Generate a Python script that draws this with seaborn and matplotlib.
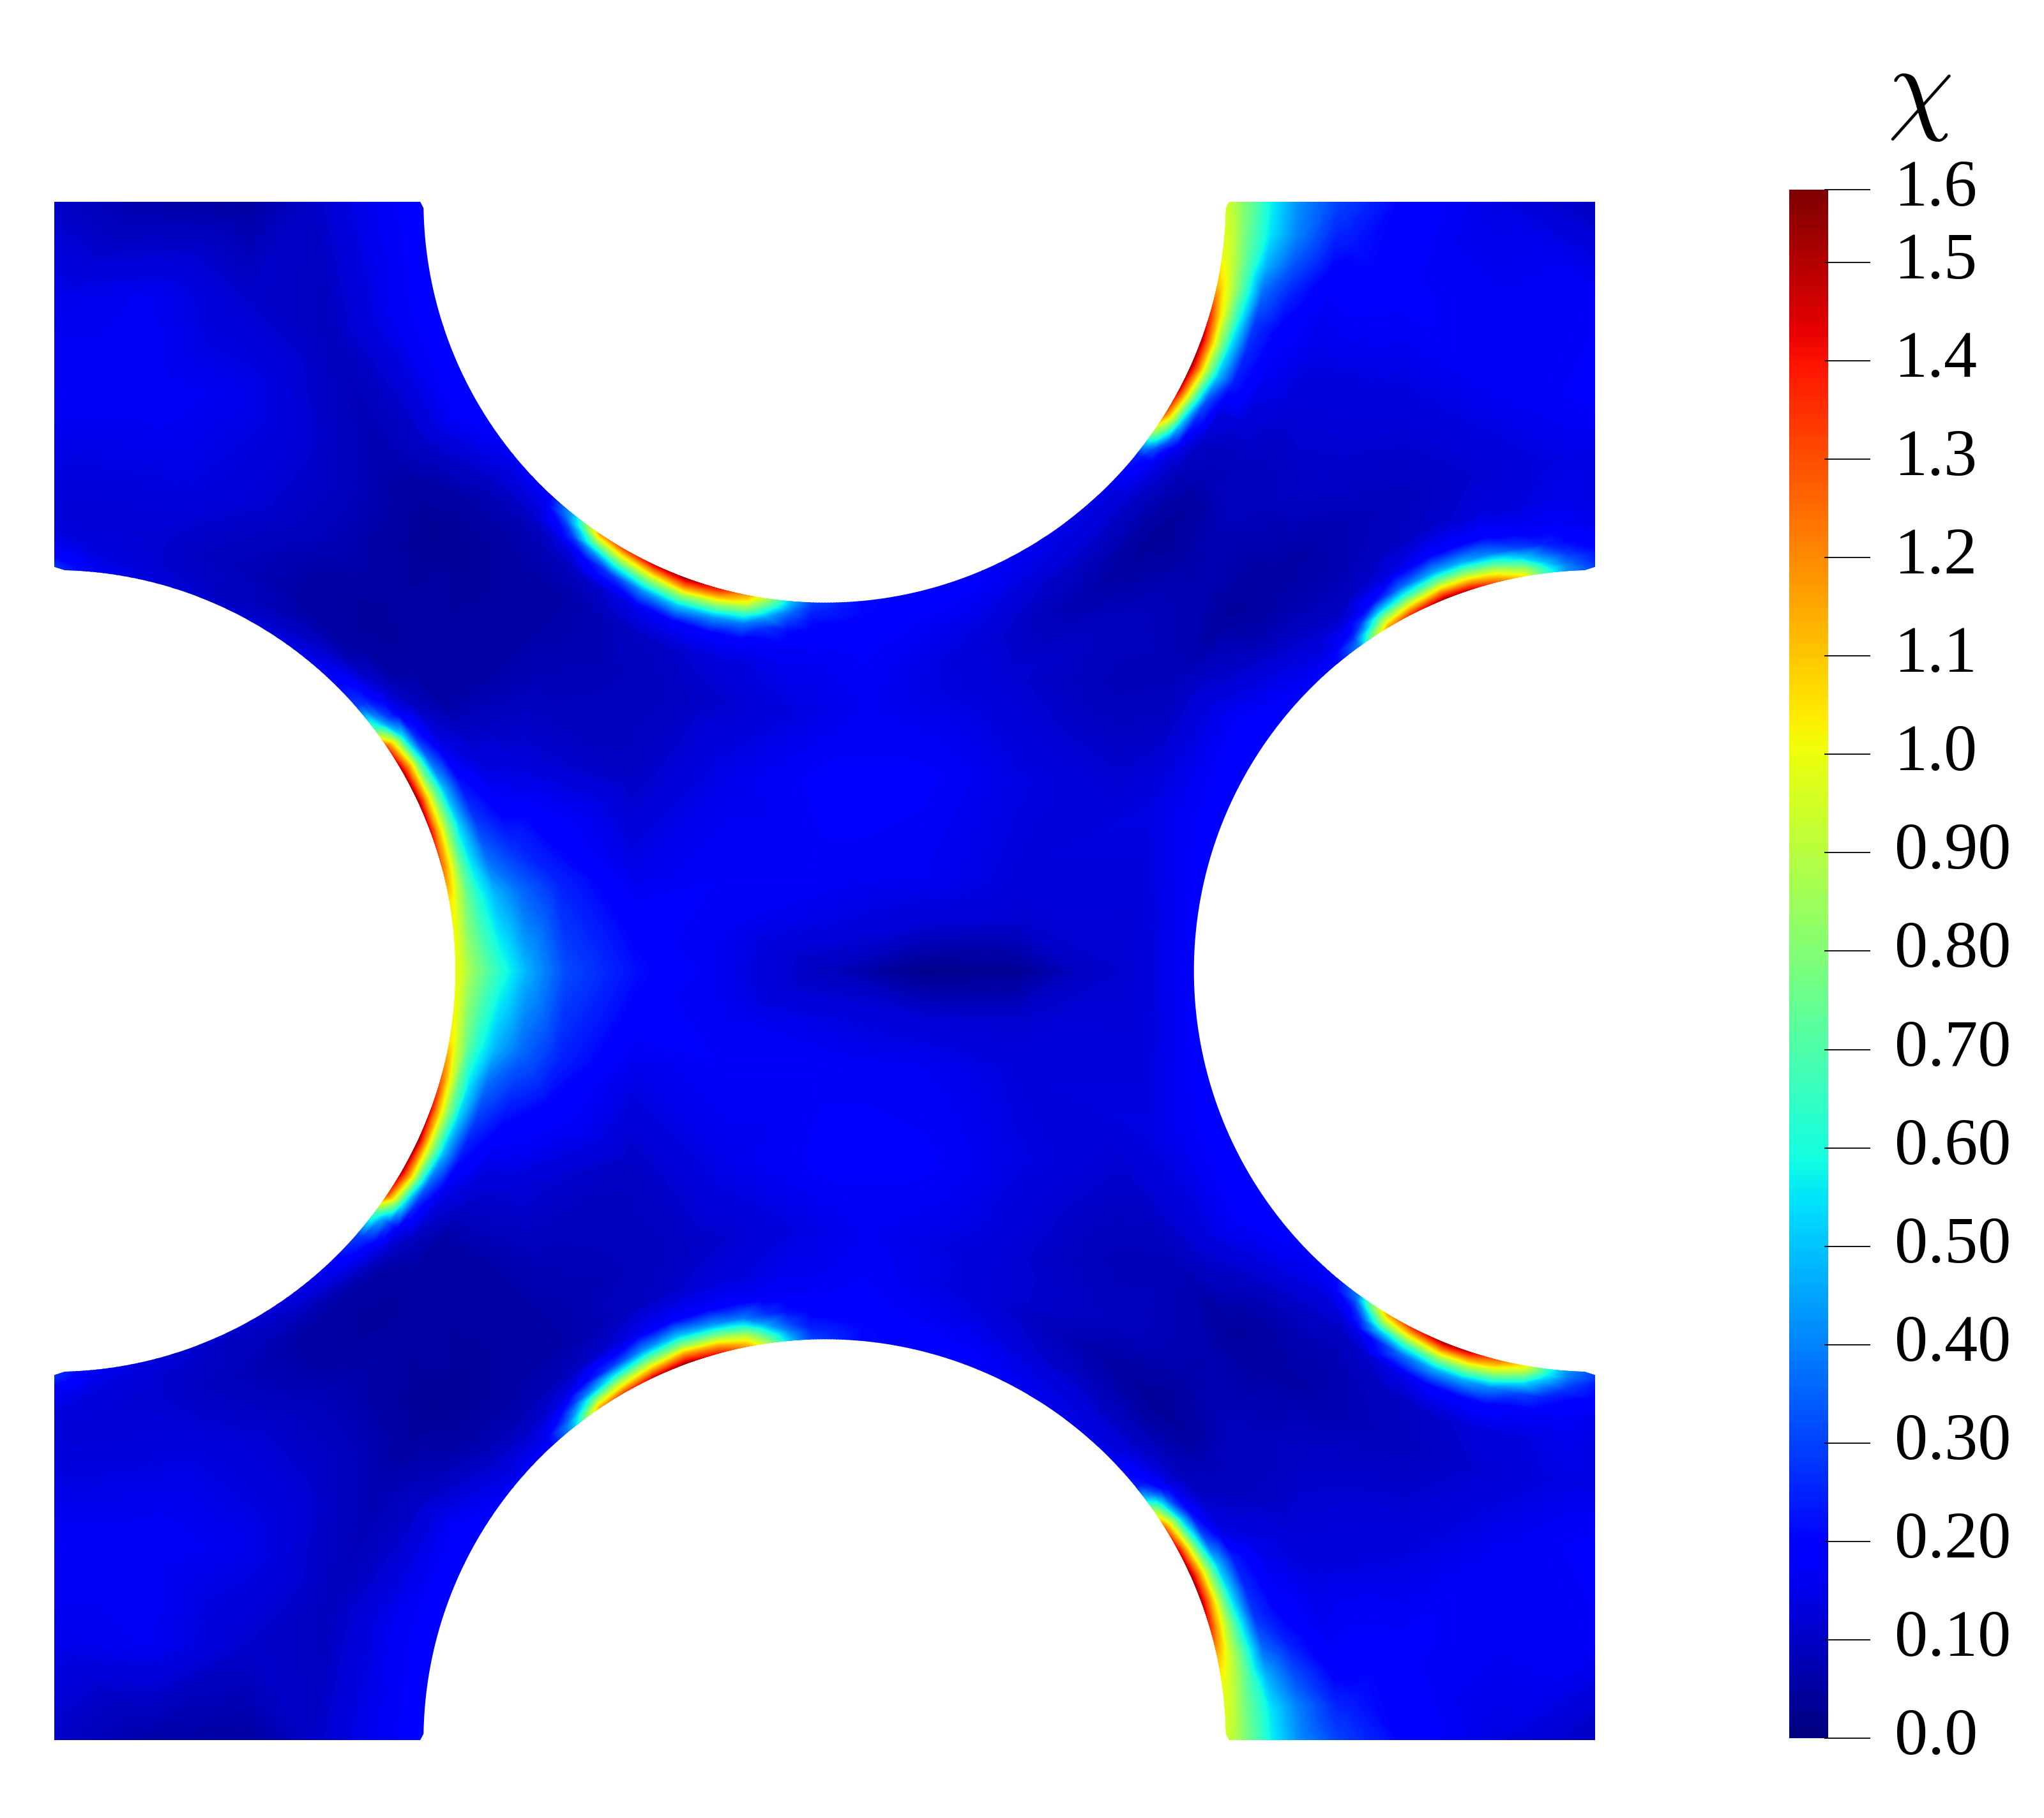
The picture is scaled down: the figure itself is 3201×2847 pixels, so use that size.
import numpy as np
import matplotlib
matplotlib.use('Agg')
import matplotlib.pyplot as plt
import matplotlib.tri as mtri
from matplotlib.path import Path
from matplotlib.patches import PathPatch
import seaborn as sns

X0, X1, Y0, Y1 = 42.0, 1223.0, 155.0, 1335.0
XC, YC = 632.5, 745.0
R = 307.5
VMAX = 1.574

# depth below each hole's edge where chi was read
depths = [0, 4, 8, 14, 22, 35, 55, 85]

# left hole, angle from the +x direction, upper half (lower half is the same)
left_angles = [0, 10, 15, 20, 25, 30, 34, 37, 41, 47, 55, 65, 75, 85, 90]
left_chi = [
    [1.00, 0.96, 0.90, 0.82, 0.74, 0.62, 0.47, 0.31],
    [1.05, 1.00, 0.90, 0.75, 0.62, 0.48, 0.36, 0.25],
    [1.25, 1.12, 0.97, 0.74, 0.55, 0.36, 0.27, 0.20],
    [1.42, 1.20, 1.03, 0.78, 0.52, 0.28, 0.19, 0.16],
    [1.52, 1.28, 1.06, 0.78, 0.48, 0.22, 0.14, 0.12],
    [1.50, 1.28, 1.08, 0.72, 0.35, 0.15, 0.10, 0.09],
    [1.30, 1.10, 0.90, 0.55, 0.25, 0.12, 0.06, 0.06],
    [0.70, 0.60, 0.45, 0.30, 0.16, 0.09, 0.05, 0.05],
    [0.30, 0.28, 0.25, 0.18, 0.12, 0.06, 0.05, 0.05],
    [0.17, 0.16, 0.15, 0.12, 0.07, 0.05, 0.04, 0.05],
    [0.13, 0.12, 0.11, 0.09, 0.07, 0.05, 0.05, 0.07],
    [0.11, 0.10, 0.09, 0.09, 0.09, 0.08, 0.09, 0.11],
    [0.12, 0.12, 0.12, 0.11, 0.11, 0.11, 0.12, 0.14],
    [0.17, 0.16, 0.15, 0.14, 0.13, 0.12, 0.12, 0.14],
    [0.28, 0.26, 0.22, 0.18, 0.15, 0.12, 0.12, 0.14],
]

# right hole, angle from the -x direction, upper half
right_angles = [0, 20, 35, 45, 50, 54, 56, 59, 63, 68, 72, 76, 80, 83, 86, 90]
right_chi = [
    [0.17, 0.17, 0.17, 0.16, 0.15, 0.13, 0.11, 0.10],
    [0.19, 0.19, 0.19, 0.18, 0.17, 0.16, 0.14, 0.12],
    [0.20, 0.20, 0.20, 0.19, 0.18, 0.16, 0.13, 0.08],
    [0.17, 0.17, 0.16, 0.15, 0.14, 0.11, 0.07, 0.04],
    [0.20, 0.18, 0.16, 0.14, 0.12, 0.10, 0.07, 0.05],
    [0.40, 0.35, 0.26, 0.18, 0.12, 0.09, 0.07, 0.06],
    [0.75, 0.62, 0.45, 0.28, 0.15, 0.09, 0.07, 0.06],
    [1.15, 0.98, 0.80, 0.50, 0.22, 0.11, 0.08, 0.07],
    [1.35, 1.15, 0.95, 0.65, 0.36, 0.14, 0.09, 0.08],
    [1.52, 1.30, 1.08, 0.78, 0.46, 0.19, 0.10, 0.09],
    [1.45, 1.25, 1.05, 0.78, 0.46, 0.20, 0.11, 0.10],
    [1.25, 1.10, 0.95, 0.70, 0.40, 0.20, 0.13, 0.11],
    [1.02, 0.90, 0.75, 0.52, 0.30, 0.17, 0.13, 0.12],
    [0.65, 0.60, 0.50, 0.38, 0.25, 0.17, 0.14, 0.13],
    [0.42, 0.40, 0.35, 0.28, 0.21, 0.17, 0.15, 0.14],
    [0.30, 0.28, 0.25, 0.22, 0.18, 0.15, 0.14, 0.14],
]

# top hole, angle from straight down, negative to the left (bottom hole is the same)
top_angles = [-90, -75, -60, -50, -43, -39, -37, -34, -30, -25, -20, -15, -11, -8, -5, -2,
              5, 20, 35, 45, 51, 53, 55, 58, 62, 66, 70, 74, 78, 82, 86, 90]
top_chi = [
    [0.18, 0.18, 0.18, 0.18, 0.17, 0.16, 0.14, 0.10],
    [0.18, 0.18, 0.18, 0.18, 0.17, 0.16, 0.13, 0.09],
    [0.20, 0.20, 0.19, 0.18, 0.17, 0.14, 0.10, 0.07],
    [0.16, 0.15, 0.14, 0.13, 0.11, 0.08, 0.05, 0.03],
    [0.18, 0.17, 0.15, 0.13, 0.10, 0.07, 0.05, 0.04],
    [0.45, 0.40, 0.30, 0.20, 0.12, 0.08, 0.06, 0.05],
    [0.70, 0.60, 0.45, 0.28, 0.14, 0.08, 0.06, 0.05],
    [1.15, 0.95, 0.72, 0.42, 0.20, 0.09, 0.06, 0.06],
    [1.30, 1.08, 0.90, 0.60, 0.28, 0.11, 0.07, 0.07],
    [1.45, 1.22, 1.02, 0.74, 0.42, 0.15, 0.09, 0.08],
    [1.52, 1.33, 1.14, 0.82, 0.50, 0.18, 0.10, 0.09],
    [1.38, 1.22, 1.04, 0.76, 0.44, 0.18, 0.12, 0.10],
    [1.15, 1.04, 0.90, 0.66, 0.38, 0.18, 0.13, 0.11],
    [0.85, 0.74, 0.62, 0.45, 0.28, 0.17, 0.14, 0.12],
    [0.50, 0.45, 0.38, 0.30, 0.22, 0.17, 0.15, 0.13],
    [0.30, 0.28, 0.25, 0.22, 0.19, 0.17, 0.15, 0.14],
    [0.21, 0.21, 0.21, 0.20, 0.19, 0.18, 0.17, 0.16],
    [0.18, 0.18, 0.18, 0.17, 0.16, 0.14, 0.12, 0.12],
    [0.15, 0.14, 0.14, 0.13, 0.12, 0.09, 0.06, 0.09],
    [0.15, 0.14, 0.13, 0.12, 0.10, 0.07, 0.03, 0.06],
    [0.25, 0.23, 0.20, 0.16, 0.12, 0.08, 0.05, 0.08],
    [0.50, 0.42, 0.32, 0.20, 0.12, 0.08, 0.07, 0.09],
    [0.85, 0.72, 0.55, 0.32, 0.16, 0.09, 0.08, 0.09],
    [1.25, 1.05, 0.85, 0.50, 0.22, 0.11, 0.09, 0.09],
    [1.45, 1.22, 1.00, 0.68, 0.32, 0.14, 0.12, 0.10],
    [1.53, 1.32, 1.12, 0.82, 0.50, 0.24, 0.15, 0.12],
    [1.50, 1.30, 1.12, 0.85, 0.55, 0.26, 0.17, 0.13],
    [1.35, 1.20, 1.05, 0.85, 0.60, 0.28, 0.19, 0.15],
    [1.12, 1.06, 0.98, 0.85, 0.65, 0.36, 0.24, 0.16],
    [1.00, 0.97, 0.92, 0.82, 0.68, 0.47, 0.32, 0.19],
    [0.97, 0.94, 0.90, 0.80, 0.70, 0.55, 0.40, 0.25],
    [0.95, 0.92, 0.88, 0.80, 0.72, 0.57, 0.42, 0.30],
]

# points away from the holes: corners of the arms and the middle, upper half
free_x = [42, 116, 190, 1075, 1149, 1223,
          42, 116, 190, 1075, 1149, 1223,
          42, 116, 190, 1075, 1149, 1223,
          263, 1002, 337, 928, 411, 854, 1040, 1040,
          485, 558, 632, 706, 780,
          485, 558, 632, 706, 780,
          485, 558, 632, 706, 780,
          485, 558, 632, 706, 780]
free_y = [155, 155, 155, 155, 155, 155,
          229, 229, 229, 229, 229, 229,
          303, 303, 303, 303, 303, 303,
          376, 376, 450, 450, 524, 524, 190, 250,
          598, 598, 598, 598, 598,
          671, 671, 671, 671, 671,
          708, 708, 708, 708, 708,
          745, 745, 745, 745, 745]
free_chi = [0.10, 0.06, 0.05, 0.20, 0.14, 0.09,
            0.15, 0.16, 0.11, 0.18, 0.16, 0.17,
            0.17, 0.17, 0.15, 0.13, 0.16, 0.18,
            0.09, 0.10, 0.05, 0.07, 0.08, 0.08, 0.22, 0.17,
            0.10, 0.15, 0.18, 0.18, 0.14,
            0.15, 0.17, 0.17, 0.16, 0.13,
            0.19, 0.16, 0.14, 0.12, 0.11,
            0.22, 0.15, 0.09, 0.02, 0.03]

tick_values = [0.0, 0.1, 0.2, 0.3, 0.4, 0.5, 0.6, 0.7, 0.8, 0.9, 1.0, 1.1, 1.2, 1.3, 1.4, 1.5, VMAX]
tick_labels = ['0.0', '0.10', '0.20', '0.30', '0.40', '0.50', '0.60', '0.70', '0.80', '0.90',
               '1.0', '1.1', '1.2', '1.3', '1.4', '1.5', '1.6']

W, H = 3201, 2847


def ax_rect(x0, x1, y0, y1):
    return [x0 / W, 1 - y1 / H, (x1 - x0) / W, (y1 - y0) / H]


def hole_nodes(angles, table, kind):
    xs, ys, cs = [], [], []
    for a, row in zip(np.radians(angles), table):
        # one extra ring inside the hole so the clipped edge never runs out of mesh
        for d, c in zip([-10] + depths, [row[0]] + row):
            rr = R + d
            if kind == 'left':
                x, y = X0 + rr * np.cos(a), YC - rr * np.sin(a)
            elif kind == 'right':
                x, y = X1 - rr * np.cos(a), YC - rr * np.sin(a)
            else:
                x, y = XC + rr * np.sin(a), Y0 + rr * np.cos(a)
            xs.append(x)
            ys.append(y)
            cs.append(c)
    return xs, ys, cs


def arc(cx, cy, start, end):
    t = np.radians(np.linspace(start, end, 500))
    return np.column_stack([cx + R * np.cos(t), cy + R * np.sin(t)])


node_x, node_y, node_c = list(free_x), list(free_y), list(free_chi)
for angles, table, kind in [(left_angles, left_chi, 'left'),
                            (right_angles, right_chi, 'right'),
                            (top_angles, top_chi, 'top')]:
    xs, ys, cs = hole_nodes(angles, table, kind)
    node_x += xs
    node_y += ys
    node_c += cs

node_x = np.array(node_x, dtype=float)
node_y = np.array(node_y, dtype=float)
node_c = np.array(node_c, dtype=float)

# the field is mirrored about the horizontal middle line
all_x = np.concatenate([node_x, node_x])
all_y = np.concatenate([node_y, 2 * YC - node_y])
all_c = np.concatenate([node_c, node_c])
_, keep = np.unique(np.round(np.column_stack([all_x, all_y]), 3), axis=0, return_index=True)
all_x, all_y, all_c = all_x[keep], all_y[keep], all_c[keep]

sns.set_theme(style='white')
plt.rcParams['font.family'] = ['Liberation Serif', 'DejaVu Serif']
plt.rcParams['mathtext.fontset'] = 'cm'
jet = matplotlib.colormaps['jet']

fig = plt.figure(figsize=(W / 100, H / 100), dpi=100, facecolor='white')

ax = fig.add_axes(ax_rect(85, 2498, 316, 2725))
ax.set_xlim(X0, X1)
ax.set_ylim(Y1, Y0)
ax.axis('off')

tri = mtri.Triangulation(all_x, all_y)
levels = np.linspace(0, VMAX, 300)
field = ax.tricontourf(tri, all_c, levels=levels, cmap=jet, vmin=0, vmax=VMAX, extend='both',
                       antialiased=False)

# outline of the plate with the four holes and the small cut corners
chamfer = 2.5
outline = np.vstack([
    [[X0, Y0], [XC - R - chamfer, Y0]],
    arc(XC, Y0, 179.1, 0.9),
    [[XC + R + chamfer, Y0], [X1, Y0], [X1, YC - R - chamfer]],
    arc(X1, YC, 268.5, 91.5),
    [[X1, YC + R + chamfer], [X1, Y1], [XC + R + chamfer, Y1]],
    arc(XC, Y1, 359.1, 180.9),
    [[XC - R - chamfer, Y1], [X0, Y1], [X0, YC + R + chamfer]],
    arc(X0, YC, 88.5, -88.5),
    [[X0, YC - R - chamfer], [X0, Y0]],
])
clip = PathPatch(Path(outline), transform=ax.transData, facecolor='none', edgecolor='none')
ax.add_patch(clip)
field.set_clip_path(clip)

# colour bar
cax = fig.add_axes(ax_rect(2802, 2863, 297, 2722))
ramp = np.linspace(VMAX, 0, 600).reshape(-1, 1)
sns.heatmap(ramp, ax=cax, cmap=jet, vmin=0, vmax=VMAX, cbar=False,
            xticklabels=False, yticklabels=False)
for v, lab in zip(tick_values, tick_labels):
    yy = (VMAX - v) / VMAX * 600
    cax.plot([(2857 - 2802) / 61, (2929 - 2802) / 61], [yy, yy], transform=cax.get_yaxis_transform(),
             color='black', lw=1.3, clip_on=False, solid_capstyle='butt')
    cax.annotate(lab, (1, yy), xycoords=cax.get_yaxis_transform(), xytext=((2967 - 2863) * 0.72, -25 * 0.72),
                 textcoords='offset points', fontsize=75, color='black', ha='left', va='baseline',
                 annotation_clip=False)
fig.text(3006 / W, 1 - 150 / H, r'$\chi$', fontsize=118, color='black', ha='center', va='center')

fig.savefig('out.png', dpi=100, facecolor='white')
